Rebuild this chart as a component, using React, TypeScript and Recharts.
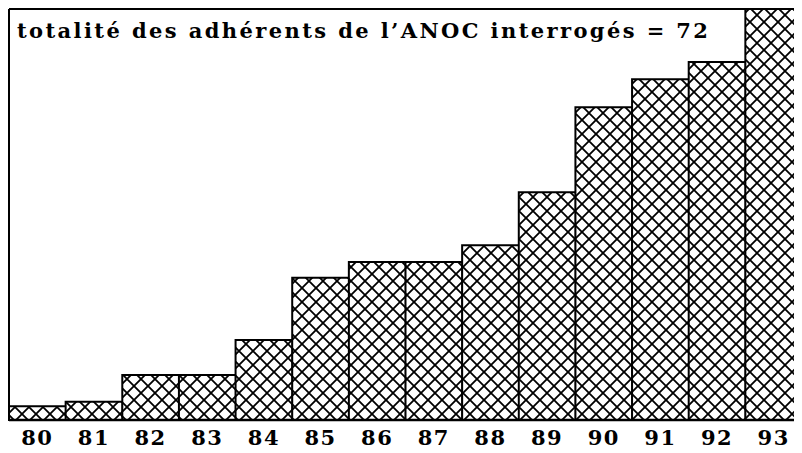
import React from "react";
import { Bar, BarChart, XAxis, YAxis } from "recharts";

// #region Sample data
const years = ["80", "81", "82", "83", "84", "85", "86", "87", "88", "89", "90", "91", "92", "93"];
const members = [2.4, 3.2, 7.9, 7.9, 14, 24.9, 27.7, 27.7, 30.6, 39.9, 54.8, 59.7, 62.7, 72];
const title = "totalité des adhérents de l’ANOC interrogés = 72";
// #endregion

const data = years.map((year, i) => ({ year, value: members[i] }));
const FONT = "'DejaVu Serif', serif";

export default function App() {
  return (
    <BarChart
      width={794}
      height={445}
      data={data}
      margin={{ top: 0, right: 0, bottom: 0, left: 0 }}
      barCategoryGap={0}
    >
      <defs>
        <pattern id="hatch" width={14} height={14} patternUnits="userSpaceOnUse">
          <rect width={14} height={14} fill="#fff" />
          <path d="M0,0 L14,14 M14,0 L0,14 M-1,13 L1,15 M13,-1 L15,1" stroke="#000" strokeWidth={1.8} />
        </pattern>
      </defs>
      <XAxis
        dataKey="year"
        height={33}
        tickLine={false}
        axisLine={{ stroke: "#000", strokeWidth: 2.5 }}
        tick={{ fill: "#000", fontFamily: FONT, fontWeight: "bold", fontSize: 21, letterSpacing: 1.5 }}
        tickMargin={4}
        interval={0}
      />
      <XAxis xAxisId="top" orientation="top" dataKey="year" height={1} tick={false} tickLine={false} axisLine={{ stroke: "#000", strokeWidth: 2 }} />
      <YAxis domain={[0, 72]} width={1} tick={false} tickLine={false} axisLine={{ stroke: "#000", strokeWidth: 2 }} />
      <Bar dataKey="value" fill="url(#hatch)" stroke="#000" strokeWidth={2} isAnimationActive={false} />
      <text x={9} y={30} fontFamily={FONT} fontWeight="bold" fontSize={21} letterSpacing={2.4} fill="#000">
        {title}
      </text>
    </BarChart>
  );
}
